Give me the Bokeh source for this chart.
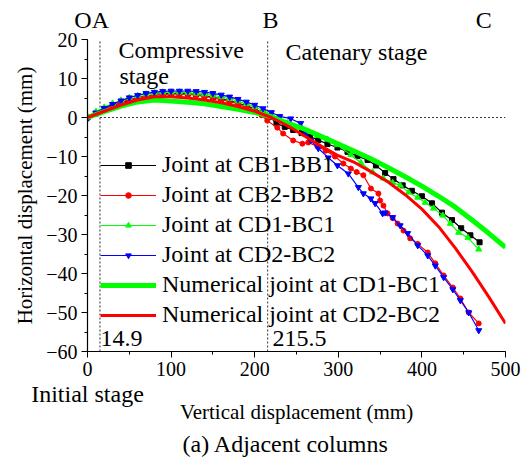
import math
from bokeh.plotting import figure
from bokeh.models import (Range1d, Label, SingleIntervalTicker, FixedTicker, Legend,
                          LinearAxis, Title)
from bokeh.embed import file_html
from bokeh.resources import INLINE

# ---------------- data ----------------
# Joint at CB1-BB1 (black squares)
bx = [0, 10, 20, 30, 40, 50, 60, 70, 80, 90, 100, 110, 120, 130, 140, 150, 160, 170, 180, 190, 200, 210,
      218, 226, 236, 246, 256, 266, 276, 287, 299, 311, 323, 335, 345, 356, 366, 377, 388, 400, 412, 424,
      436, 447, 458, 469]
by = [0, 1.0, 2.0, 2.9, 3.7, 4.4, 5.0, 5.5, 5.9, 6.1, 6.2, 6.2, 6.1, 5.9, 5.6, 5.2, 4.8, 4.3, 3.7, 3.0, 2.2, 1.2,
      0.2, -1.5, -2.4, -3.2, -4.0, -4.9, -5.8, -6.8, -7.7, -8.8, -9.9, -10.9, -12.3, -14.2, -15.8, -17.4,
      -18.8, -20.2, -22.0, -24.4, -26.3, -28.4, -30.2, -32.0]

# Joint at CB2-BB2 (red circles)
rx = [0, 10, 20, 30, 40, 50, 60, 70, 80, 90, 100, 110, 120, 130, 140, 150, 160, 170, 180, 190, 200, 208,
      215, 227, 234, 246, 257, 264, 275, 285, 296, 306, 315, 322, 330, 339, 348, 350, 354, 359, 365, 371,
      378, 386, 395, 407, 416, 426, 437, 446, 456, 468]
ry = [0, 1.1, 2.2, 3.1, 3.9, 4.6, 5.1, 5.5, 5.8, 5.9, 6.0, 6.0, 5.9, 5.7, 5.4, 5.0, 4.6, 4.1, 3.5, 2.8, 2.0, 0.6,
      -0.8, -2.6, -4.1, -5.9, -6.7, -6.4, -7.4, -8.5, -10.0, -11.8, -13.1, -14.0, -14.8, -18.2, -19.5, -21.3,
      -22.6, -24.6, -25.8, -27.2, -29.0, -31.0, -32.4, -34.6, -37.4, -40.5, -43.6, -46.4, -50.0, -52.8]

# Joint at CD1-BC1 (green up-triangles)
gx = [0, 10, 20, 30, 40, 50, 60, 70, 80, 90, 100, 110, 120, 130, 140, 150, 160, 170, 180, 190, 200, 210,
      220, 227, 239, 251, 263, 275, 287, 299, 315, 327, 341, 354, 365, 374, 384, 395, 404, 414, 425, 434,
      444, 455, 468]
gy = [0.3, 1.5, 2.6, 3.6, 4.4, 5.1, 5.6, 6.0, 6.3, 6.5, 6.5, 6.5, 6.4, 6.2, 6.0, 5.7, 5.3, 4.8, 4.2, 3.5, 2.7,
      1.8, 0.8, -0.3, -1.4, -2.6, -3.6, -4.6, -5.6, -7.0, -9.6, -11.6, -14.0, -15.6, -16.7, -17.4, -19.2,
      -20.5, -21.8, -23.3, -25.1, -27.2, -29.5, -30.8, -33.8]

# Joint at CD2-BC2 (blue down-triangles)
ux = [0, 10, 20, 30, 40, 50, 60, 70, 80, 90, 100, 110, 120, 130, 140, 150, 160, 170, 180, 190, 200, 210,
      220, 230, 243, 255, 261, 267, 276, 288, 299, 312, 324, 330, 339, 344, 353, 356, 365, 374, 383, 395,
      407, 416, 426, 437, 446, 456, 468]
uy = [-0.3, 1.2, 2.4, 3.4, 4.3, 5.1, 5.7, 6.2, 6.5, 6.7, 6.8, 6.8, 6.8, 6.7, 6.5, 6.2, 5.8, 5.3, 4.7, 4.0, 3.2,
      2.3, 1.3, 0.3, -0.3, -1.5, -3.8, -5.9, -7.9, -10.3, -12.3, -14.4, -17.9, -19.5, -20.8, -22.0, -24.6,
      -24.4, -25.6, -27.7, -29.7, -32.8, -35.4, -38.0, -41.0, -44.1, -46.9, -50.0, -54.6]

# Numerical results
nx = [0, 20, 40, 60, 80, 100, 120, 140, 160, 180, 200, 220, 240, 260, 280, 300, 320, 340, 360, 380, 400,
      420, 440, 460, 480, 500]
ng = [0, 1.5, 2.9, 4.0, 4.5, 4.2, 3.9, 3.5, 2.8, 2.1, 1.3, 0.2, -1.5, -3.0, -4.9, -6.8, -8.7, -10.7, -12.9,
      -15.2, -17.6, -20.2, -23.0, -26.3, -29.7, -33.3]
nr = [0, 1.6, 3.2, 4.5, 5.3, 5.3, 5.0, 4.5, 3.8, 2.8, 1.6, 0.0, -2.2, -4.8, -7.4, -9.8, -11.6, -14.0, -16.6,
      -19.8, -23.5, -28.0, -33.5, -39.5, -46.0, -52.8]

# stage boundaries and stage point labels
stage_x = [14.9, 215.5]
stage_labels = ["14.9", "215.5"]
point_pos = [5, 219, 474]
point_labels = ["OA", "B", "C"]

# ---------------- figure ----------------
FONT = "Liberation Serif"
p = figure(width=523, height=458, frame_width=418, frame_height=312,
           min_border_left=87, min_border_right=18, min_border_top=39, min_border_bottom=100,
           x_range=Range1d(0, 500), y_range=Range1d(-60, 20),
           output_backend="svg", toolbar_location=None)
p.outline_line_color = None
p.grid.visible = False
p.background_fill_color = "white"
p.border_fill_color = "white"

p.xaxis.ticker = SingleIntervalTicker(interval=100, num_minor_ticks=2)
p.yaxis.ticker = SingleIntervalTicker(interval=10, num_minor_ticks=2)
for ax in (p.xaxis[0], p.yaxis[0]):
    ax.axis_line_color = "black"
    ax.axis_line_width = 1.2
    ax.major_tick_line_color = "black"
    ax.minor_tick_line_color = "black"
    ax.major_tick_out = 6
    ax.major_tick_in = 0
    ax.minor_tick_out = 3
    ax.minor_tick_in = 0
    ax.major_label_text_font = FONT
    ax.major_label_text_font_size = "20px"
    ax.major_label_text_color = "black"
    ax.major_label_standoff = 4

yax = p.yaxis[0]
yax.axis_label = "Horizontal displacement (mm)"
yax.axis_label_text_font = FONT
yax.axis_label_text_font_size = "21px"
yax.axis_label_text_font_style = "normal"
yax.axis_label_text_color = "black"
yax.axis_label_standoff = 6


def text_axis(ticks, labels, size="24px"):
    ax = LinearAxis(ticker=FixedTicker(ticks=ticks, minor_ticks=[]),
                    major_label_overrides={t: s for t, s in zip(ticks, labels)})
    ax.axis_line_color = None
    ax.major_tick_line_color = None
    ax.minor_tick_line_color = None
    ax.major_label_text_font = FONT
    ax.major_label_text_font_size = size
    ax.major_label_text_color = "black"
    return ax


top_ax = text_axis(point_pos, point_labels)
top_ax.major_label_standoff = 1
p.add_layout(top_ax, "above")

init_ax = text_axis([0], ["Initial stage"])
init_ax.major_label_standoff = -4
init_ax.axis_label = "Vertical displacement (mm)"
init_ax.axis_label_text_font = FONT
init_ax.axis_label_text_font_size = "21px"
init_ax.axis_label_text_font_style = "normal"
init_ax.axis_label_text_color = "black"
init_ax.axis_label_standoff = -10
p.add_layout(init_ax, "below")

sub = Title(text="(a) Adjacent columns", align="left", offset=95, standoff=5,
            text_font=FONT, text_font_size="24px", text_font_style="normal", text_color="black")
p.add_layout(sub, "below")

# dotted reference lines
p.segment(x0=stage_x, y0=[-60, -60], x1=stage_x, y1=[20, 20], line_color="#333333",
          line_dash="2 2", line_width=1)
p.segment(x0=[stage_x[0]], y0=[0], x1=[500], y1=[0], line_color="#333333", line_dash="2 2", line_width=1)

l1 = p.line(bx, by, line_color="black", line_width=1.2)
m1 = p.scatter(bx, by, marker="square", size=5, color="black")
l2 = p.line(rx, ry, line_color="#ff0000", line_width=1.2)
m2 = p.scatter(rx, ry, marker="circle", size=5, color="#ff0000")
l3 = p.line(gx, gy, line_color="#00ff00", line_width=1.2)
m3 = p.scatter(gx, gy, marker="triangle", size=6, color="#00ff00")
l4 = p.line(ux, uy, line_color="#0000ff", line_width=1.2)
m4 = p.scatter(ux, uy, marker="inverted_triangle", size=6, color="#0000ff")
l5 = p.line(nx, ng, line_color="#00ff00", line_width=5)
l6 = p.line(nx, nr, line_color="#ff0000", line_width=3)

legend = Legend(items=[
    ("Joint at CB1-BB1", [l1, m1]),
    ("Joint at CB2-BB2", [l2, m2]),
    ("Joint at CD1-BC1", [l3, m3]),
    ("Joint at CD2-BC2", [l4, m4]),
    ("Numerical joint at CD1-BC1", [l5]),
    ("Numerical joint at CD2-BC2", [l6]),
], location=(13, 23))
legend.label_text_font = FONT
legend.label_text_font_size = "24px"
legend.label_text_color = "black"
legend.glyph_width = 56
legend.glyph_height = 14
legend.label_height = 25
legend.spacing = 3
legend.padding = 0
legend.margin = 0
legend.label_standoff = 6
legend.border_line_alpha = 0
legend.background_fill_alpha = 0
p.add_layout(legend, "center")


def lab(x, y, text, size="24px"):
    p.add_layout(Label(x=x, y=y, text=text, text_font=FONT, text_font_size=size,
                       text_align="left", text_baseline="alphabetic", text_color="black"))


lab(37.1, 17.3, "Compressive")
lab(38.3, 10.6, "stage")
lab(236.8, 16.9, "Catenary stage")
lab(stage_x[0] + 0.6, -56.6, stage_labels[0])
lab(stage_x[1] + 5.8, -56.6, stage_labels[1])

open("out.html", "w").write(file_html(p, INLINE))
